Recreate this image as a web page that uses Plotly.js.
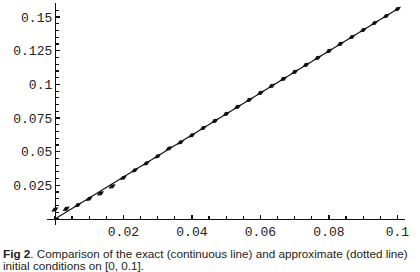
<!DOCTYPE html>
<html>
<head>
<meta charset="utf-8">
<script src="https://cdn.plot.ly/plotly-3.0.1.min.js"></script>
<style>
  html, body { margin: 0; padding: 0; background: #fff; }
  #chart { width: 420px; height: 272px; }
</style>
</head>
<body>
<div id="chart"></div>
<script>
// Exact solution (continuous line)
var exactX = [0, 0.1];
var exactY = [0, 0.156];

// Approximate solution (dotted line)
var approxX = [0, 0.0033, 0.0067, 0.01, 0.0133, 0.0167, 0.02, 0.0233, 0.0267, 0.03,
               0.0333, 0.0367, 0.04, 0.0433, 0.0467, 0.05, 0.0533, 0.0567, 0.06, 0.0633,
               0.0667, 0.07, 0.0733, 0.0767, 0.08, 0.0833, 0.0867, 0.09, 0.0933, 0.0967, 0.1];
var approxY = [0.0070, 0.0075, 0.0104, 0.0150, 0.0190, 0.0242, 0.0306, 0.0362, 0.0414, 0.0466,
               0.0524, 0.0570, 0.0622, 0.0676, 0.0729, 0.0781, 0.0833, 0.0885, 0.0937, 0.0989,
               0.1041, 0.1093, 0.1145, 0.1197, 0.1249, 0.1301, 0.1353, 0.1405, 0.1457, 0.1509, 0.1561];

// Tick labels
var xTickVals = [0.02, 0.04, 0.06, 0.08, 0.1];
var xTickText = ["0.02", "0.04", "0.06", "0.08", "0.1"];
var yTickVals = [0.025, 0.05, 0.075, 0.1, 0.125, 0.15];
var yTickText = ["0.025", "0.05", "0.075", "0.1", "0.125", "0.15"];

var captionLine1 = "<b>Fig 2</b>. Comparison of the exact (continuous line) and approximate (dotted line)";
var captionLine2 = "initial conditions on [0, 0.1].";

var xRange = [-0.0023, 0.1022];
var yRange = [-0.0045, 0.1605];

var tickFont = { family: "Liberation Mono, Courier New, monospace", size: 13, color: "#222" };

var traces = [
  {
    x: exactX, y: exactY, type: "scatter", mode: "lines",
    line: { color: "#111", width: 1.2 },
    hoverinfo: "skip", showlegend: false
  },
  {
    x: approxX, y: approxY, type: "scatter", mode: "markers",
    marker: { color: "#111", size: 6, symbol: "diamond-wide", angle: -32, line: { width: 0 } },
    hoverinfo: "skip", showlegend: false
  }
];

var layout = {
  width: 420, height: 272,
  margin: { l: 47, r: 15, t: 3, b: 47 },
  paper_bgcolor: "#fff", plot_bgcolor: "#fff",
  showlegend: false,
  xaxis: {
    range: xRange, showgrid: false, zeroline: false,
    showline: true, linecolor: "#111", linewidth: 1.3,
    anchor: "free",
    position: (0 - yRange[0]) / (yRange[1] - yRange[0]),
    tickmode: "array", tickvals: xTickVals, ticktext: xTickText,
    ticks: "inside", ticklen: 4, tickwidth: 1.3, tickcolor: "#111",
    tickfont: tickFont,
    minor: { tickmode: "linear", tick0: 0, dtick: 0.005, ticks: "inside", ticklen: 3, tickwidth: 1.2, tickcolor: "#111", showgrid: false }
  },
  yaxis: {
    range: yRange, showgrid: false, zeroline: false,
    showline: true, linecolor: "#111", linewidth: 1.3,
    anchor: "free",
    position: (0 - xRange[0]) / (xRange[1] - xRange[0]),
    tickmode: "array", tickvals: yTickVals, ticktext: yTickText,
    ticks: "inside", ticklen: 4, tickwidth: 1.3, tickcolor: "#111",
    tickfont: tickFont,
    minor: { tickmode: "linear", tick0: 0, dtick: 0.005, ticks: "inside", ticklen: 3, tickwidth: 1.2, tickcolor: "#111", showgrid: false }
  },
  annotations: [
    {
      text: captionLine1, xref: "paper", yref: "paper",
      x: (1 - 47) / 358, y: (225 - 253.5) / 222,
      xanchor: "left", yanchor: "middle", showarrow: false, align: "left",
      font: { family: "Liberation Sans, Arial, sans-serif", size: 11.7, color: "#222" }
    },
    {
      text: captionLine2, xref: "paper", yref: "paper",
      x: (1 - 47) / 358, y: (225 - 265) / 222,
      xanchor: "left", yanchor: "middle", showarrow: false, align: "left",
      font: { family: "Liberation Sans, Arial, sans-serif", size: 11.7, color: "#222" }
    }
  ]
};

Plotly.newPlot("chart", traces, layout, { staticPlot: true, displayModeBar: false });
</script>
</body>
</html>
